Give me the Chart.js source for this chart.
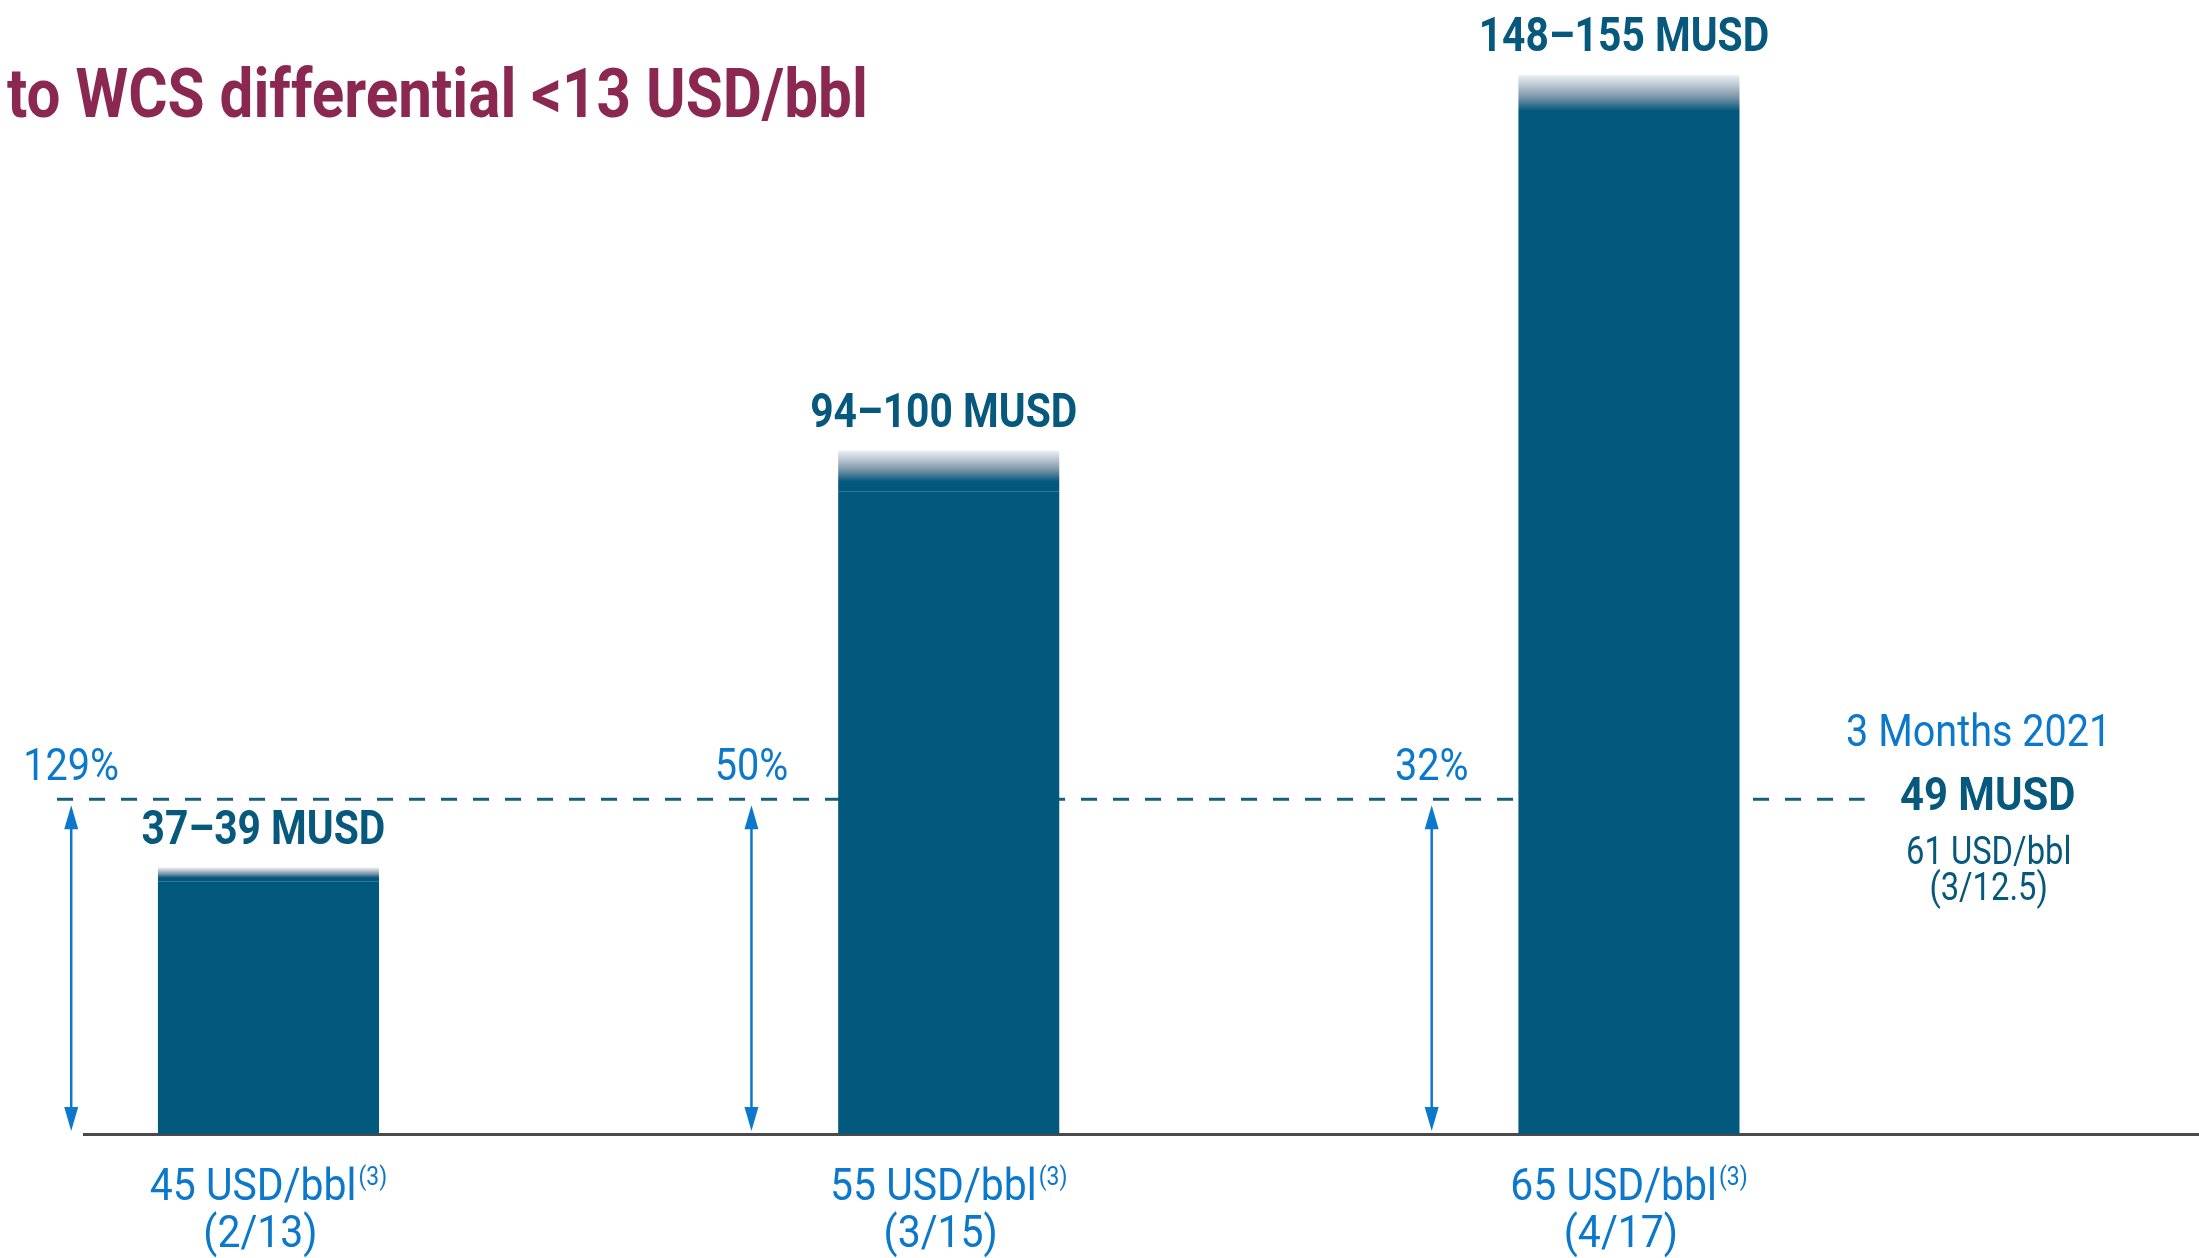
<!DOCTYPE html>
<html>
<head>
<meta charset="utf-8">
<style>
  html, body { margin: 0; padding: 0; background: #ffffff; }
  #wrap { width: 2199px; height: 1258px; position: relative; }
</style>
<script src="https://cdn.jsdelivr.net/npm/chart.js@4.4.1/dist/chart.umd.min.js"></script>
</head>
<body>
<div id="wrap"><canvas id="c" width="2199" height="1258"></canvas></div>
<script>
// ---------------- DATA ----------------
const titleText = 'to WCS differential <13 USD/bbl';
const categories = ['45 USD/bbl', '55 USD/bbl', '65 USD/bbl'];
const categoryFootnote = '(3)';
const categorySubLabels = ['(2/13)', '(3/15)', '(4/17)'];
const lowValues = [37, 94, 148];
const highValues = [39, 100, 155];
const percentLabels = ['129%', '50%', '32%'];
const unitLabel = 'MUSD';
const currentPeriod = '3 Months 2021';
const currentValue = 49;
const currentPrice = '61 USD/bbl';
const currentSub = '(3/12.5)';

// ---------------- STYLE ----------------
const FONT = 'Roboto, "Liberation Sans", "DejaVu Sans", sans-serif';
const COND = 0.88;
const C_BAR = '#03587e';
const C_DARK = '#07587d';
const C_BLUE = '#0b78cc';
const C_TITLE = '#8b2852';
const C_AXIS = '#4a4a4a';
const C_DASH = '#1a5e81';

function drawText(ctx, s, x, y, size, weight, color, align, sx) {
  sx = sx || COND;
  ctx.save();
  ctx.font = weight + ' ' + size + 'px ' + FONT;
  ctx.fillStyle = color;
  ctx.textAlign = 'left';
  ctx.textBaseline = 'alphabetic';
  const w = ctx.measureText(s).width * sx;
  let x0 = x;
  if (align === 'center') x0 = x - w / 2;
  else if (align === 'right') x0 = x - w;
  ctx.translate(x0, y);
  ctx.scale(sx, 1);
  ctx.fillText(s, 0, 0);
  ctx.restore();
  return w;
}
function measure(ctx, s, size, weight, sx) {
  ctx.save();
  ctx.font = weight + ' ' + size + 'px ' + FONT;
  const w = ctx.measureText(s).width * (sx || COND);
  ctx.restore();
  return w;
}

const annotX = 2.52; // x-scale position of the right annotation column

const decorPlugin = {
  id: 'decor',
  beforeDatasetsDraw(chart) {
    const { ctx, scales: { x, y }, chartArea } = chart;
    const yLine = y.getPixelForValue(currentValue);
    const ax = x.getPixelForValue(annotX);
    ctx.save();
    ctx.strokeStyle = C_DASH;
    ctx.lineWidth = 3;
    ctx.setLineDash([16, 16]);
    ctx.beginPath();
    ctx.moveTo(chartArea.left - 27, yLine);
    ctx.lineTo(ax - 118, yLine);
    ctx.stroke();
    ctx.restore();
  },
  afterDatasetsDraw(chart) {
    const { ctx, scales: { x, y } } = chart;
    const yLine = y.getPixelForValue(currentValue);
    const yBase = y.getPixelForValue(0);

    // title
    drawText(ctx, titleText, 7, 117, 68, 'bold', C_TITLE, 'left', 0.885);

    categories.forEach((cat, i) => {
      const cx = x.getPixelForValue(i);
      const top = y.getPixelForValue(highValues[i]);
      // range value label
      drawText(ctx, lowValues[i] + '\u2013' + highValues[i] + ' ' + unitLabel,
               cx - 5, top - 24, 48, 'bold', C_DARK, 'center', 0.85);

      // category labels
      const w1 = measure(ctx, cat, 45, 'normal', 0.91);
      const w2 = measure(ctx, categoryFootnote, 26, 'normal', 0.88);
      const start = cx - (w1 + w2 + 2) / 2;
      drawText(ctx, cat, start, yBase + 66, 45, 'normal', C_BLUE, 'left', 0.91);
      drawText(ctx, categoryFootnote, start + w1 + 2, yBase + 51, 26, 'normal', C_BLUE, 'left', 0.88);
      drawText(ctx, categorySubLabels[i], cx - 8, yBase + 113, 45, 'normal', C_BLUE, 'center', 0.91);

      // arrows
      const axp = x.getPixelForValue(i - 0.29);
      const tipTop = yLine + 6;
      const tipBot = yBase - 3;
      const hl = 24, hw = 7;
      ctx.save();
      ctx.strokeStyle = C_BLUE;
      ctx.fillStyle = C_BLUE;
      ctx.lineWidth = 2.5;
      ctx.beginPath();
      ctx.moveTo(axp, tipTop + hl - 2);
      ctx.lineTo(axp, tipBot - hl + 2);
      ctx.stroke();
      ctx.beginPath();
      ctx.moveTo(axp, tipTop);
      ctx.lineTo(axp - hw, tipTop + hl);
      ctx.lineTo(axp + hw, tipTop + hl);
      ctx.closePath();
      ctx.fill();
      ctx.beginPath();
      ctx.moveTo(axp, tipBot);
      ctx.lineTo(axp - hw, tipBot - hl);
      ctx.lineTo(axp + hw, tipBot - hl);
      ctx.closePath();
      ctx.fill();
      ctx.restore();

      // percent labels
      drawText(ctx, percentLabels[i], axp, yLine - 19, 45, 'normal', C_BLUE, 'center', 0.88);
    });

    // right annotation
    const ax = x.getPixelForValue(annotX);
    drawText(ctx, currentPeriod, ax - 4, yLine - 53, 45, 'normal', C_BLUE, 'center', 0.88);
    drawText(ctx, currentValue + ' ' + unitLabel, ax + 5, yLine + 11, 47, 'bold', C_DARK, 'center', 0.89);
    drawText(ctx, currentPrice, ax + 6, yLine + 65, 39, 'normal', C_DARK, 'center', 0.84);
    drawText(ctx, currentSub, ax + 6, yLine + 101, 39, 'normal', C_DARK, 'center', 0.84);
  }
};

const solidData = lowValues.map((v, i) => ({ x: i, y: v }));
const rangeData = lowValues.map((v, i) => ({ x: i, y: [v, highValues[i]] }));

new Chart(document.getElementById('c'), {
  type: 'bar',
  data: {
    datasets: [
      {
        label: 'low',
        data: solidData,
        backgroundColor: C_BAR,
        borderWidth: 0,
        grouped: false,
        barPercentage: 0.325,
        categoryPercentage: 1
      },
      {
        label: 'range',
        data: rangeData,
        borderWidth: 0,
        grouped: false,
        barPercentage: 0.325,
        categoryPercentage: 1,
        backgroundColor: (c) => {
          const chart = c.chart;
          if (!chart.chartArea || c.type !== 'data') return C_BAR;
          const i = c.dataIndex;
          const yTop = chart.scales.y.getPixelForValue(highValues[i]);
          const yBot = chart.scales.y.getPixelForValue(lowValues[i]);
          const g = chart.ctx.createLinearGradient(0, yTop, 0, yBot);
          g.addColorStop(0, '#eaeef1');
          g.addColorStop(0.2, '#bccad4');
          g.addColorStop(0.45, '#7d97aa');
          g.addColorStop(0.65, '#2c6d8d');
          g.addColorStop(0.75, C_BAR);
          g.addColorStop(1, C_BAR);
          return g;
        }
      }
    ]
  },
  options: {
    responsive: false,
    animation: false,
    devicePixelRatio: 1,
    layout: { padding: { left: 84, right: 0, top: 0, bottom: 124 } },
    plugins: { legend: { display: false }, tooltip: { enabled: false }, title: { display: false } },
    scales: {
      x: {
        type: 'linear',
        offset: false,
        min: -0.2712,
        max: 2.838,
        afterBuildTicks: (scale) => {
          scale.ticks = categories.map((_, i) => ({ value: i }));
        },
        grid: { display: false, drawTicks: false },
        ticks: { display: false },
        border: { display: true, color: C_AXIS, width: 3 }
      },
      y: {
        display: false,
        min: 0,
        max: 166
      }
    }
  },
  plugins: [decorPlugin]
});
</script>
</body>
</html>
